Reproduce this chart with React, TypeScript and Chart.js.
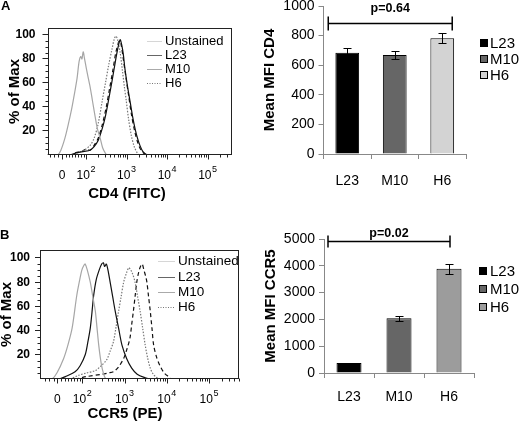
import React, { useEffect, useRef } from "react";
import { Chart, registerables } from "chart.js";

Chart.register(...registerables);

const FONT = "'Liberation Sans', Arial, Helvetica, sans-serif";

type Pt = [number, number];

// ---------------- Flow histograms (x in log10 display units, y = % of Max) ----------------
const histLegendLabels = ["Unstained", "L23", "M10", "H6"];
const histTickValues = [1.41, 2, 3, 4, 5];
const histTickBases = ["0", "10", "10", "10", "10"];
const histTickExps = ["", "2", "3", "4", "5"];
const histYTicks = [20, 40, 60, 80, 100];
const histLinearMinor = [1.12, 1.22, 1.32, 1.5, 1.58, 1.66, 1.74, 1.81, 1.88, 1.94];

const cd4Unstained: Pt[] = [
  [1.05, 0], [1.3, 0], [1.38, 4], [1.48, 14], [1.56, 25], [1.65, 39], [1.72, 52], [1.78, 64],
  [1.83, 78], [1.87, 82], [1.9, 80], [1.93, 86], [1.96, 81], [2.02, 70], [2.1, 57], [2.16, 45],
  [2.22, 33], [2.28, 22], [2.35, 14], [2.41, 6], [2.47, 2], [2.52, 0], [5.6, 0],
];
const cd4L23: Pt[] = [
  [1.05, 0], [1.6, 0], [1.78, 2], [1.95, 3], [2.1, 4], [2.2, 7], [2.3, 12], [2.4, 22], [2.47, 31],
  [2.53, 41], [2.59, 52], [2.66, 65], [2.72, 77], [2.78, 88], [2.84, 96], [2.88, 92], [2.92, 84],
  [2.96, 72], [3.02, 58], [3.09, 44], [3.15, 32], [3.21, 22], [3.27, 14], [3.33, 8], [3.4, 3],
  [3.46, 1], [3.52, 0], [5.6, 0],
];
const cd4M10: Pt[] = [
  [1.05, 0], [1.7, 0], [1.8, 2], [1.95, 4], [2.1, 8], [2.2, 14], [2.3, 26], [2.4, 45], [2.48, 60],
  [2.56, 75], [2.64, 88], [2.7, 97], [2.74, 99], [2.78, 96], [2.84, 86], [2.9, 70], [2.95, 56],
  [2.99, 46], [3.05, 30], [3.12, 16], [3.19, 7], [3.26, 2], [3.32, 0], [5.6, 0],
];
const cd4H6: Pt[] = [
  [1.05, 0], [1.6, 0], [1.75, 2], [1.9, 3], [2.0, 5], [2.1, 4], [2.2, 8], [2.3, 14], [2.4, 25],
  [2.5, 40], [2.58, 55], [2.66, 70], [2.74, 86], [2.82, 95], [2.86, 93], [2.92, 80], [2.98, 66],
  [3.05, 50], [3.12, 34], [3.2, 20], [3.28, 10], [3.36, 4], [3.44, 1], [3.5, 0], [5.6, 0],
];

const ccr5Unstained: Pt[] = [
  [1.0, 0], [1.28, 0], [1.4, 5], [1.56, 17], [1.66, 28], [1.76, 42], [1.87, 69], [1.94, 82],
  [1.99, 90], [2.04, 94], [2.07, 95], [2.12, 90], [2.19, 80], [2.25, 68], [2.31, 56], [2.35, 42],
  [2.39, 28], [2.43, 17], [2.47, 9], [2.54, 1], [2.6, 0], [5.72, 0],
];
const ccr5L23: Pt[] = [
  [1.0, 0], [1.45, 0], [1.6, 2], [1.83, 6], [1.95, 11], [2.07, 20], [2.13, 30], [2.19, 42],
  [2.23, 55], [2.27, 69], [2.33, 82], [2.4, 90], [2.46, 95], [2.5, 96], [2.53, 93], [2.57, 95],
  [2.62, 88], [2.66, 80], [2.72, 68], [2.78, 56], [2.86, 42], [2.94, 28], [3.05, 17], [3.17, 9],
  [3.3, 4], [3.49, 1], [3.6, 0], [5.72, 0],
];
const ccr5M10: Pt[] = [
  [1.0, 0], [1.7, 0], [1.91, 3], [2.1, 5], [2.31, 7], [2.45, 11], [2.58, 16], [2.66, 23],
  [2.74, 31], [2.8, 43], [2.86, 56], [2.92, 68], [2.98, 80], [3.05, 88], [3.1, 92], [3.13, 91],
  [3.18, 88], [3.25, 80], [3.31, 68], [3.37, 56], [3.43, 42], [3.49, 28], [3.55, 17], [3.61, 9],
  [3.68, 4], [3.77, 1], [3.85, 0], [5.72, 0],
];
const ccr5H6: Pt[] = [
  [1.0, 0], [1.8, 0], [2.1, 2], [2.47, 4], [2.62, 5], [2.74, 6], [2.86, 10], [2.98, 17],
  [3.06, 25], [3.13, 34], [3.17, 45], [3.21, 56], [3.25, 68], [3.29, 80], [3.34, 89], [3.39, 94],
  [3.42, 95], [3.46, 90], [3.5, 85], [3.53, 80], [3.57, 68], [3.61, 56], [3.65, 42], [3.69, 28],
  [3.76, 18], [3.84, 11], [3.94, 5], [4.04, 2], [4.12, 0], [5.72, 0],
];

// ---------------- Bar charts ----------------
const groups = ["L23", "M10", "H6"];
const cd4Mfi = [684, 669, 782];
const cd4Err = [30, 30, 33];
const cd4PText = "p=0.64";
const cd4Bracket = [-0.4, 2.21];
const cd4BracketValue = 888;
const ccr5Mfi = [370, 2040, 3890];
const ccr5Err = [0, 90, 180];
const ccr5PText = "p=0.02";
const ccr5Bracket = [-0.42, 2.02];
const ccr5BracketValue = 4930;

// ---------------- styles ----------------
const histStyles = [
  { color: "#a6a6a6", dash: [] as number[] },
  { color: "#111111", dash: [] as number[] },
  { color: "#777777", dash: [1.5, 1.5] },
  { color: "#111111", dash: [4, 3] },
];
const histLegendStyles = [
  { color: "#d6d6d6", dash: [] as number[] },
  { color: "#666666", dash: [] as number[] },
  { color: "#aaaaaa", dash: [] as number[] },
  { color: "#777777", dash: [1, 1.5] },
];
const cd4Colors = ["#000000", "#666666", "#d3d3d3"];
const ccr5Colors = ["#000000", "#666666", "#9c9c9c"];

type Area = { l: number; t: number; r: number; b: number };

function line(ctx: CanvasRenderingContext2D, x1: number, y1: number, x2: number, y2: number) {
  ctx.beginPath();
  ctx.moveTo(x1, y1);
  ctx.lineTo(x2, y2);
  ctx.stroke();
}

type HistProps = {
  w: number;
  h: number;
  area: Area;
  xMin: number;
  xMax: number;
  yMax: number;
  series: Pt[][];
  letter: string;
  letterPos: [number, number];
  xTitle: string;
  xTitlePos: [number, number];
  yTitlePad: number;
  yTickPad: number;
  legend: { x0: number; x1: number; tx: number; rows: number[]; size: number };
};

function histConfig(p: HistProps): any {
  const extras = {
    id: "histExtras",
    afterDraw(chart: any) {
      const ctx: CanvasRenderingContext2D = chart.ctx;
      const a = chart.chartArea;
      const x = chart.scales.x;
      const y = chart.scales.y;
      ctx.save();
      ctx.strokeStyle = "#222";
      ctx.lineWidth = 1;
      ctx.setLineDash([]);
      const L = Math.round(a.left) + 0.5;
      const T = Math.round(a.top) + 0.5;
      const R = Math.round(a.right) - 0.5;
      const B = Math.round(a.bottom) - 0.5;
      ctx.strokeRect(L, T, R - L, B - T);
      // y minor ticks
      for (let v = 5; v <= 100; v += 5) {
        if (v % 20 === 0) continue;
        const py = Math.round(y.getPixelForValue(v)) + 0.5;
        line(ctx, L - 3, py, L, py);
      }
      // x ticks
      const minors: number[] = [...histLinearMinor];
      [2, 3, 4, 5].forEach((d) => {
        for (let k = 2; k <= 9; k++) {
          const v = d + Math.log10(k);
          if (v < p.xMax) minors.push(v);
        }
      });
      minors.forEach((v) => {
        const px = Math.round(x.getPixelForValue(v)) + 0.5;
        line(ctx, px, B, px, B + 3);
      });
      histTickValues.forEach((v) => {
        const px = Math.round(x.getPixelForValue(v)) + 0.5;
        line(ctx, px, B, px, B + 5);
      });
      // x tick labels
      ctx.fillStyle = "#000";
      ctx.textBaseline = "middle";
      ctx.textAlign = "left";
      const ly = a.bottom + 21;
      histTickValues.forEach((v, i) => {
        const px = x.getPixelForValue(v);
        ctx.font = `12px ${FONT}`;
        const bw = ctx.measureText(histTickBases[i]).width;
        ctx.font = `9px ${FONT}`;
        const ew = histTickExps[i] ? ctx.measureText(histTickExps[i]).width + 0.5 : 0;
        const sx = px - (bw + ew) / 2;
        ctx.font = `12px ${FONT}`;
        ctx.fillText(histTickBases[i], sx, ly);
        if (histTickExps[i]) {
          ctx.font = `9px ${FONT}`;
          ctx.fillText(histTickExps[i], sx + bw + 0.5, ly - 6);
        }
      });
      // x title
      ctx.font = `bold 15px ${FONT}`;
      ctx.textAlign = "center";
      ctx.fillText(p.xTitle, p.xTitlePos[0], p.xTitlePos[1]);
      // panel letter
      ctx.font = `bold 13px ${FONT}`;
      ctx.textAlign = "left";
      ctx.fillText(p.letter, p.letterPos[0], p.letterPos[1]);
      // legend
      ctx.font = `${p.legend.size}px ${FONT}`;
      histLegendLabels.forEach((lab, i) => {
        const ry = p.legend.rows[i];
        const st = histLegendStyles[i];
        ctx.strokeStyle = st.color;
        ctx.setLineDash(st.dash);
        line(ctx, p.legend.x0, Math.round(ry) + 0.5, p.legend.x1, Math.round(ry) + 0.5);
        ctx.setLineDash([]);
        ctx.fillStyle = "#000";
        ctx.fillText(lab, p.legend.tx, ry);
      });
      ctx.restore();
    },
  };

  return {
    type: "line",
    data: {
      datasets: p.series.map((s, i) => ({
        label: histLegendLabels[i],
        data: s.map(([xv, yv]) => ({ x: xv, y: yv })),
        borderColor: histStyles[i].color,
        borderDash: histStyles[i].dash,
        borderWidth: 1.2,
        pointRadius: 0,
        tension: 0.3,
        fill: false,
      })),
    },
    options: {
      animation: false,
      responsive: false,
      events: [],
      layout: { padding: { left: 0, top: p.area.t, right: p.w - p.area.r, bottom: 0 } },
      plugins: { legend: { display: false }, tooltip: { enabled: false } },
      scales: {
        x: {
          type: "linear",
          min: p.xMin,
          max: p.xMax,
          ticks: { display: false },
          grid: { display: false },
          border: { display: false },
          afterFit: (s: any) => {
            s.height = p.h - p.area.b;
            s.paddingLeft = 0;
            s.paddingRight = 0;
          },
        },
        y: {
          min: 0,
          max: p.yMax,
          afterBuildTicks: (s: any) => {
            s.ticks = histYTicks.map((v) => ({ value: v }));
          },
          ticks: {
            autoSkip: false,
            color: "#000",
            padding: p.yTickPad,
            font: { family: FONT, size: 12, weight: "bold" },
            callback: (v: any) => String(v),
          },
          grid: { drawOnChartArea: false, tickLength: 5, color: "#222" },
          border: { display: false },
          title: {
            display: true,
            text: "% of Max",
            color: "#000",
            font: { family: FONT, size: 15, weight: "bold" },
            padding: { top: p.yTitlePad, bottom: 0 },
          },
          afterFit: (s: any) => {
            s.width = p.area.l;
            s.paddingTop = 0;
            s.paddingBottom = 0;
          },
        },
      },
    },
    plugins: [extras],
  };
}

type BarProps = {
  w: number;
  h: number;
  area: Area;
  yMax: number;
  step: number;
  values: number[];
  errors: number[];
  colors: string[];
  yTitle: string;
  yTitlePad: number;
  xTickPad: number;
  bracket: number[];
  bracketValue: number;
  bracketTick: number;
  pText: string;
  pOffset: number;
  legend: { sx: number; tx: number; rows: number[] };
};

function barConfig(p: BarProps): any {
  const extras = {
    id: "barExtras",
    afterDatasetsDraw(chart: any) {
      const ctx: CanvasRenderingContext2D = chart.ctx;
      const x = chart.scales.x;
      const y = chart.scales.y;
      const meta = chart.getDatasetMeta(0);
      ctx.save();
      ctx.strokeStyle = "#000";
      ctx.lineWidth = 1;
      // error bars
      p.values.forEach((v, i) => {
        const e = p.errors[i];
        if (!e) return;
        const cx = Math.round(meta.data[i].x) + 0.5;
        const yt = Math.round(y.getPixelForValue(v + e)) + 0.5;
        const yb = Math.round(y.getPixelForValue(v - e)) + 0.5;
        line(ctx, cx, yt, cx, yb);
        line(ctx, cx - 4, yt, cx + 4, yt);
        line(ctx, cx - 4, yb, cx + 4, yb);
      });
      // significance bracket
      const by = Math.round(y.getPixelForValue(p.bracketValue)) + 0.5;
      const x1 = x.getPixelForValue(p.bracket[0]);
      const x2 = x.getPixelForValue(p.bracket[1]);
      ctx.lineWidth = 1.5;
      line(ctx, x1, by, x2, by);
      line(ctx, x1, by - p.bracketTick, x1, by + p.bracketTick);
      line(ctx, x2, by - p.bracketTick, x2, by + p.bracketTick);
      ctx.fillStyle = "#000";
      ctx.font = `bold 12.5px ${FONT}`;
      ctx.textAlign = "center";
      ctx.textBaseline = "middle";
      ctx.fillText(p.pText, (x1 + x2) / 2, by - p.pOffset);
      // legend
      ctx.lineWidth = 1;
      ctx.textAlign = "left";
      ctx.font = `15px ${FONT}`;
      groups.forEach((g, i) => {
        const ry = p.legend.rows[i];
        ctx.fillStyle = p.colors[i];
        ctx.fillRect(p.legend.sx, ry - 4, 8, 8);
        ctx.strokeStyle = "#000";
        ctx.strokeRect(p.legend.sx + 0.5, ry - 3.5, 7, 7);
        ctx.fillStyle = "#000";
        ctx.fillText(g, p.legend.tx, ry + 0.5);
      });
      ctx.restore();
    },
  };

  return {
    type: "bar",
    data: {
      labels: groups,
      datasets: [
        {
          data: p.values,
          backgroundColor: p.colors,
          borderColor: "#000",
          borderWidth: 1,
          barPercentage: 0.5,
          categoryPercentage: 1,
        },
      ],
    },
    options: {
      animation: false,
      responsive: false,
      events: [],
      layout: { padding: { left: 0, top: p.area.t, right: p.w - p.area.r, bottom: 0 } },
      plugins: { legend: { display: false }, tooltip: { enabled: false } },
      scales: {
        x: {
          ticks: { color: "#000", padding: p.xTickPad, font: { family: FONT, size: 14 } },
          grid: { drawOnChartArea: false, tickLength: 5, color: "#888" },
          border: { color: "#888" },
          afterFit: (s: any) => {
            s.height = p.h - p.area.b;
            s.paddingLeft = 0;
            s.paddingRight = 0;
          },
        },
        y: {
          min: 0,
          max: p.yMax,
          ticks: {
            stepSize: p.step,
            color: "#000",
            padding: 4,
            font: { family: FONT, size: 14 },
            callback: (v: any) => String(v),
          },
          grid: { drawOnChartArea: false, tickLength: 5, color: "#888" },
          border: { color: "#888" },
          title: {
            display: true,
            text: p.yTitle,
            color: "#000",
            font: { family: FONT, size: 15, weight: "bold" },
            padding: { top: p.yTitlePad, bottom: 0 },
          },
          afterFit: (s: any) => {
            s.width = p.area.l;
            s.paddingTop = 0;
            s.paddingBottom = 0;
          },
        },
      },
    },
    plugins: [extras],
  };
}

function ChartCanvas(props: { left: number; top: number; width: number; height: number; make: () => any }) {
  const ref = useRef<HTMLCanvasElement>(null);
  useEffect(() => {
    const chart = new Chart(ref.current as HTMLCanvasElement, props.make());
    return () => chart.destroy();
  }, []);
  return (
    <canvas
      ref={ref}
      width={props.width}
      height={props.height}
      style={{ position: "absolute", left: props.left, top: props.top, width: props.width, height: props.height }}
    />
  );
}

export default function App() {
  return (
    <div style={{ position: "absolute", left: 0, top: 0, width: 520, height: 427, background: "#fff", overflow: "hidden" }}>
      <ChartCanvas
        left={0}
        top={0}
        width={260}
        height={212}
        make={() =>
          histConfig({
            w: 260,
            h: 212,
            area: { l: 47.5, t: 28, r: 231.5, b: 155 },
            xMin: 1.05,
            xMax: 5.59,
            yMax: 105.8,
            series: [cd4Unstained, cd4L23, cd4M10, cd4H6],
            letter: "A",
            letterPos: [1, 6],
            xTitle: "CD4 (FITC)",
            xTitlePos: [127, 194],
            yTitlePad: 6,
            yTickPad: 7,
            legend: { x0: 147, x1: 162, tx: 165, rows: [41, 55, 69, 83], size: 13 },
          })
        }
      />
      <ChartCanvas
        left={260}
        top={0}
        width={260}
        height={212}
        make={() =>
          barConfig({
            w: 260,
            h: 212,
            area: { l: 63.5, t: 6, r: 206, b: 154 },
            yMax: 1000,
            step: 200,
            values: cd4Mfi,
            errors: cd4Err,
            colors: cd4Colors,
            yTitle: "Mean MFI CD4",
            yTitlePad: 1,
            xTickPad: 14,
            bracket: cd4Bracket,
            bracketValue: cd4BracketValue,
            bracketTick: 7,
            pText: cd4PText,
            pOffset: 15,
            legend: { sx: 220, tx: 230, rows: [43, 59, 75] },
          })
        }
      />
      <ChartCanvas
        left={0}
        top={212}
        width={260}
        height={215}
        make={() =>
          histConfig({
            w: 260,
            h: 215,
            area: { l: 40, t: 38, r: 239, b: 167 },
            xMin: 1.0,
            xMax: 5.71,
            yMax: 106.6,
            series: [ccr5Unstained, ccr5L23, ccr5M10, ccr5H6],
            letter: "B",
            letterPos: [0, 23],
            xTitle: "CCR5 (PE)",
            xTitlePos: [125, 202],
            yTitlePad: -2,
            yTickPad: 5,
            legend: { x0: 158, x1: 175, tx: 178, rows: [49, 65, 80, 95], size: 13.5 },
          })
        }
      />
      <ChartCanvas
        left={260}
        top={212}
        width={260}
        height={215}
        make={() =>
          barConfig({
            w: 260,
            h: 215,
            area: { l: 64, t: 27, r: 214, b: 161 },
            yMax: 5000,
            step: 1000,
            values: ccr5Mfi,
            errors: ccr5Err,
            colors: ccr5Colors,
            yTitle: "Mean MFI CCR5",
            yTitlePad: 2,
            xTickPad: 11,
            bracket: ccr5Bracket,
            bracketValue: ccr5BracketValue,
            bracketTick: 6,
            pText: ccr5PText,
            pOffset: 8,
            legend: { sx: 219, tx: 230, rows: [59, 77, 95] },
          })
        }
      />
    </div>
  );
}
